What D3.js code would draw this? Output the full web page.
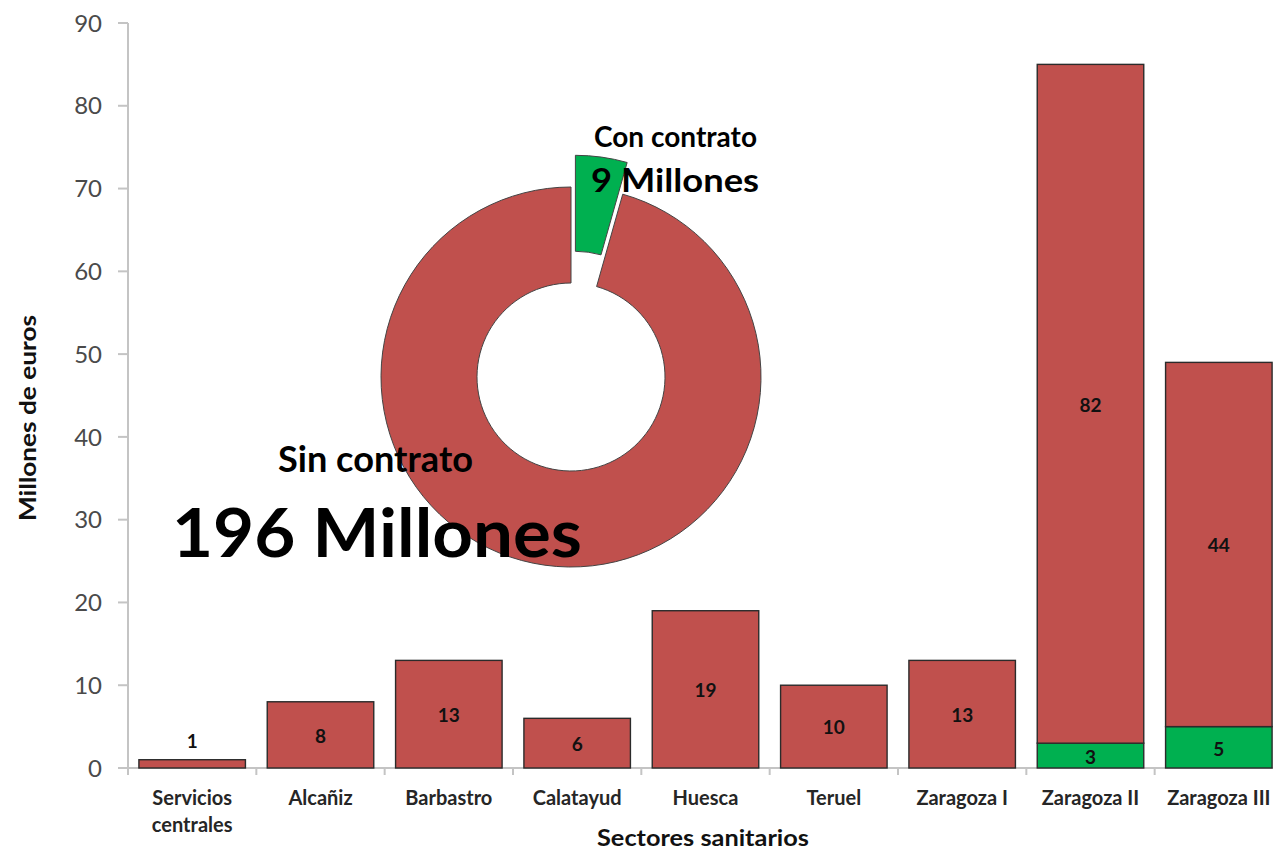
<!DOCTYPE html>
<html>
<head>
<meta charset="utf-8">
<script src="https://cdn.jsdelivr.net/npm/d3@7"></script>
<style>
  body { margin: 0; background: #fff; }
  svg { display: block; font-family: Lato, "Open Sans", sans-serif; }
  .axis-line { stroke: #c4c4c4; stroke-width: 2; fill: none; }
  .tick-label { fill: #4a4a4a; font-size: 24px; }
  .cat-label { fill: #262626; font-size: 20px; font-weight: bold; }
  .bar-label { fill: #111; font-size: 19px; font-weight: bold; }
  .axis-title { fill: #111; font-size: 23px; font-weight: bold; }
</style>
</head>
<body>
<div id="chart"></div>
<script>
const sectors = ["Servicios centrales", "Alcañiz", "Barbastro", "Calatayud", "Huesca",
  "Teruel", "Zaragoza I", "Zaragoza II", "Zaragoza III"];
const sinContrato = [1, 8, 13, 6, 19, 10, 13, 82, 44];
const conContrato = [0, 0, 0, 0, 0, 0, 0, 3, 5];
const yTicks = [0, 10, 20, 30, 40, 50, 60, 70, 80, 90];
const donutNames = ["Con contrato", "Sin contrato"];
const donutValues = [9, 196];

const RED = "#c0504d";
const GREEN = "#00b050";

const width = 1273;
const height = 852;
const margin = { top: 23, right: -10, bottom: 84, left: 128 };

const svg = d3.select("#chart").append("svg")
  .attr("width", width)
  .attr("height", height);

const y = d3.scaleLinear()
  .domain([0, 90])
  .range([height - margin.bottom, margin.top]);

const x = d3.scaleBand()
  .domain(sectors)
  .range([margin.left, width - margin.right])
  .paddingInner(0.17)
  .paddingOuter(0.085);

const step = x.step();
const rows = sectors.map((name, i) => ({
  name,
  sin: sinContrato[i],
  con: conContrato[i],
}));

// y axis
const axisY = svg.append("g").attr("transform", `translate(${margin.left},0)`);
axisY.append("line").attr("class", "axis-line")
  .attr("x1", 0).attr("x2", 0)
  .attr("y1", y(90)).attr("y2", y(0) + 7);
axisY.selectAll(".ytick").data(yTicks).join("line")
  .attr("class", "axis-line ytick")
  .attr("x1", -10).attr("x2", 0)
  .attr("y1", (d) => y(d)).attr("y2", (d) => y(d));
axisY.selectAll(".tick-label").data(yTicks).join("text")
  .attr("class", "tick-label")
  .attr("x", -26)
  .attr("y", (d) => y(d))
  .attr("dy", "0.36em")
  .attr("text-anchor", "end")
  .text((d) => d);

// x axis
const axisX = svg.append("g").attr("transform", `translate(0,${y(0)})`);
axisX.append("line").attr("class", "axis-line")
  .attr("x1", margin.left - 10).attr("x2", width)
  .attr("y1", 0).attr("y2", 0);
const boundaries = d3.range(sectors.length + 1).map((i) => margin.left + i * step);
axisX.selectAll(".xtick").data(boundaries).join("line")
  .attr("class", "axis-line xtick")
  .attr("x1", (d) => d).attr("x2", (d) => d)
  .attr("y1", 0).attr("y2", 7);

axisX.selectAll(".cat-label").data(sectors).join("text")
  .attr("class", "cat-label")
  .attr("text-anchor", "middle")
  .attr("x", (d) => x(d) + x.bandwidth() / 2)
  .attr("y", 37)
  .each(function (d) {
    const words = d === "Servicios centrales" ? ["Servicios", "centrales"] : [d];
    d3.select(this).selectAll("tspan").data(words).join("tspan")
      .attr("x", x(d) + x.bandwidth() / 2)
      .attr("dy", (w, i) => (i === 0 ? 0 : 27))
      .text((w) => w);
  });

svg.append("text").attr("class", "axis-title")
  .attr("x", 703).attr("y", 846)
  .attr("text-anchor", "middle")
  .attr("textLength", 212)
  .attr("lengthAdjust", "spacingAndGlyphs")
  .text("Sectores sanitarios");

svg.append("text").attr("class", "axis-title")
  .attr("transform", "translate(36, 418) rotate(-90)")
  .attr("text-anchor", "middle")
  .attr("textLength", 206)
  .attr("lengthAdjust", "spacingAndGlyphs")
  .text("Millones de euros");

// stacked bars
const barLayer = svg.append("g");
barLayer.selectAll(".bar-con").data(rows.filter((r) => r.con > 0)).join("rect")
  .attr("class", "bar-con")
  .attr("x", (r) => x(r.name))
  .attr("width", x.bandwidth())
  .attr("y", (r) => y(r.con))
  .attr("height", (r) => y(0) - y(r.con))
  .attr("fill", GREEN)
  .attr("stroke", "#2b2b2b")
  .attr("stroke-width", 1.4);

barLayer.selectAll(".bar-sin").data(rows).join("rect")
  .attr("class", "bar-sin")
  .attr("x", (r) => x(r.name))
  .attr("width", x.bandwidth())
  .attr("y", (r) => y(r.con + r.sin))
  .attr("height", (r) => y(r.con) - y(r.con + r.sin))
  .attr("fill", RED)
  .attr("stroke", "#2b2b2b")
  .attr("stroke-width", 1.4);

// labels: segment centre, or above when the segment is too thin
barLayer.selectAll(".lbl-sin").data(rows).join("text")
  .attr("class", "bar-label")
  .attr("text-anchor", "middle")
  .attr("x", (r) => x(r.name) + x.bandwidth() / 2)
  .attr("y", (r) => (r.sin < 3 ? y(r.con + r.sin) - 19 : y(r.con + r.sin / 2) + 1))
  .attr("dy", "0.36em")
  .text((r) => r.sin);

barLayer.selectAll(".lbl-con").data(rows.filter((r) => r.con > 0)).join("text")
  .attr("class", "bar-label")
  .attr("text-anchor", "middle")
  .attr("x", (r) => x(r.name) + x.bandwidth() / 2)
  .attr("y", (r) => y(r.con / 2) + 2)
  .attr("dy", "0.36em")
  .text((r) => r.con);

// doughnut inset
const cx = 571;
const cy = 377;
const outerR = 190;
const innerR = 94;
const explode = 32;

const pie = d3.pie().sort(null).value((d) => d.value);
const arc = d3.arc().innerRadius(innerR).outerRadius(outerR);
const slices = pie(donutNames.map((name, i) => ({ name, value: donutValues[i] })));

const donut = svg.append("g").attr("transform", `translate(${cx},${cy})`);
donut.selectAll("path").data(slices).join("path")
  .attr("d", arc)
  .attr("fill", (d, i) => (i === 0 ? GREEN : RED))
  .attr("stroke", "#444")
  .attr("stroke-width", 1)
  .attr("transform", (d, i) => {
    if (i !== 0) return null;
    const mid = (d.startAngle + d.endAngle) / 2;
    return `translate(${Math.sin(mid) * explode},${-Math.cos(mid) * explode})`;
  });

const donutLabels = [
  { text: donutNames[0], x: 594, y: 147, size: 28, len: 163 },
  { text: `${donutValues[0]} Millones`, x: 591, y: 192, size: 33, len: 168 },
  { text: donutNames[1], x: 278, y: 472, size: 36, len: 195 },
  { text: `${donutValues[1]} Millones`, x: 172, y: 557, size: 67, len: 410 },
];
svg.append("g").attr("fill", "#000").attr("font-weight", "bold")
  .selectAll("text").data(donutLabels).join("text")
  .attr("x", (d) => d.x)
  .attr("y", (d) => d.y)
  .attr("font-size", (d) => d.size)
  .attr("textLength", (d) => d.len)
  .attr("lengthAdjust", "spacingAndGlyphs")
  .text((d) => d.text);
</script>
</body>
</html>
